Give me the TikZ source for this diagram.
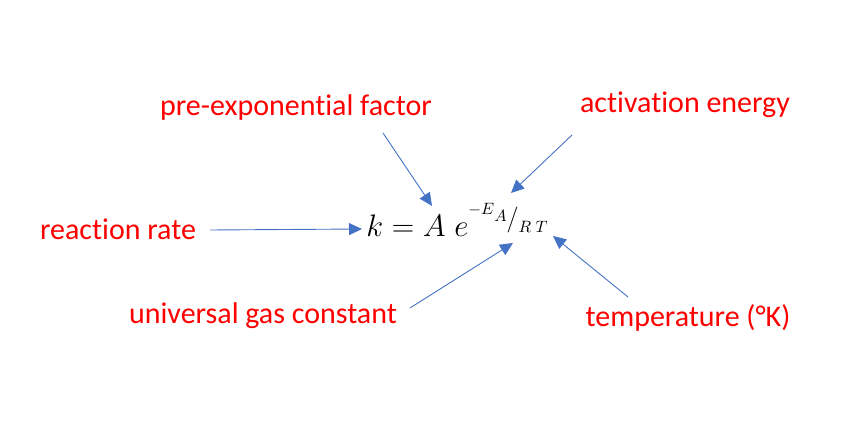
\documentclass[tikz,border=0pt]{standalone}
\usepackage{fontspec}
\setmainfont{Carlito}[Ligatures=NoCommon]
\usetikzlibrary{arrows.meta}
\definecolor{lblred}{RGB}{255,0,0}
\definecolor{arrblue}{RGB}{68,114,196}
\newcommand{\expsz}[1]{\fontsize{#1}{#1}\selectfont}
\begin{document}
\begin{tikzpicture}[x=1pt,y=1pt,
    lbl/.style={text=lblred,font=\fontsize{30}{34}\selectfont,inner sep=0pt},
    pointer/.style={draw=arrblue,line width=0.9pt,-{Triangle[length=13pt,width=12pt]}}]
                \useasboundingbox (0,0) rectangle (850,425);
                \node (eq) [anchor=base west,inner sep=0pt,scale=1.5,font=\fontsize{20}{24}\selectfont] at (366,188)
                    {$k = A\;e$\raisebox{14.7pt}{\expsz{11}$-E$}\raisebox{10pt}{\expsz{11}$A$}\raisebox{7.3pt}{\expsz{17}$/$}\raisebox{3.3pt}{\expsz{11}$R\;T$}};
                \node (rate) [lbl] at (118,196) {reaction rate};
                \node (pre) [lbl] at (296,317) {pre-exponential factor};
                \node (act) [lbl] at (685,320) {activation energy};
                \node (gas) [lbl] at (263,109) {universal gas constant};
                \node (temp) [lbl] at (688,107) {temperature (°K)};
                \coordinate (rate-s) at (210,195);
                \coordinate (rate-e) at (362,196);
                \coordinate (pre-s) at (383,292);
                \coordinate (pre-e) at (432,219);
                \coordinate (act-s) at (572,290);
                \coordinate (act-e) at (511,232);
                \coordinate (gas-s) at (410,117);
                \coordinate (gas-e) at (513,182);
                \coordinate (temp-s) at (628,128);
                \coordinate (temp-e) at (553,189);
                \draw [pointer] (rate-s) -- (rate-e);
                \draw [pointer] (pre-s) -- (pre-e);
                \draw [pointer] (act-s) -- (act-e);
                \draw [pointer] (gas-s) -- (gas-e);
                \draw [pointer] (temp-s) -- (temp-e);
            \end{tikzpicture}
\end{document}
